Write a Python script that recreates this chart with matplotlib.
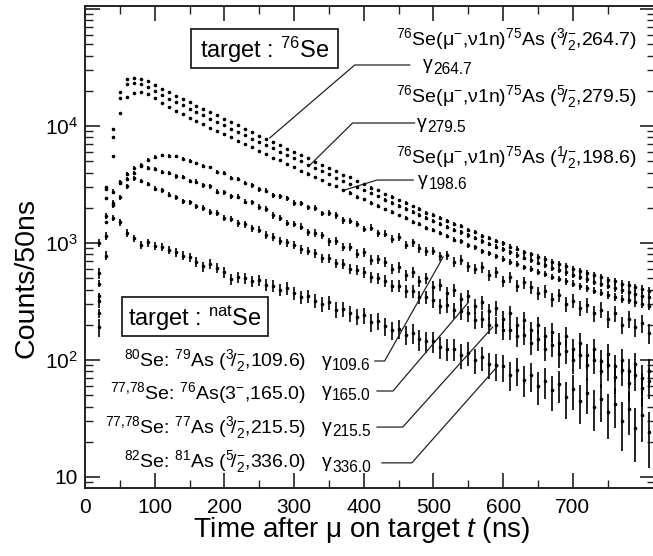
import numpy as np
import matplotlib
matplotlib.use('Agg')
import matplotlib.pyplot as plt
from matplotlib.patches import Rectangle
from matplotlib.ticker import NullFormatter

fam = 'Liberation Sans'
plt.rcParams['font.family'] = [fam, 'DejaVu Sans']
plt.rcParams['mathtext.fontset'] = 'custom'
plt.rcParams['mathtext.rm'] = fam
plt.rcParams['mathtext.it'] = fam + ':italic'
plt.rcParams['mathtext.bf'] = fam + ':bold'

# time bins (ns)
t = np.arange(20, 820, 10)

# 76Se target
se76_264 = [450, 3000, 9500, 19500, 25300, 25800, 25400, 24200, 22600, 20700,
            19400, 18200, 17050, 15950, 14950, 14000, 13100, 12300, 11500, 10800,
            10150, 9450, 8850, 8250, 7800, 7250, 6850, 6380, 6020, 5600,
            5300, 4930, 4660, 4330, 4110, 3820, 3630, 3360, 3200, 2970,
            2830, 2620, 2490, 2320, 2210, 2060, 1970, 1820, 1740, 1630,
            1550, 1450, 1390, 1290, 1240, 1150, 1110, 1040, 990, 930,
            895, 835, 805, 760, 730, 690, 665, 635, 605, 575,
            555, 530, 510, 485, 470, 450, 440, 420, 405, 390]
se76_279 = [350, 2400, 8000, 17500, 22800, 23300, 22900, 21700, 19900, 18400,
            17000, 15900, 15000, 14000, 13150, 12300, 11550, 10800, 10150, 9500,
            8900, 8300, 7800, 7300, 6850, 6420, 6020, 5650, 5280, 4980,
            4650, 4380, 4090, 3860, 3610, 3400, 3190, 3000, 2820, 2650,
            2500, 2350, 2210, 2090, 1960, 1850, 1740, 1640, 1550, 1460,
            1380, 1300, 1230, 1160, 1100, 1030, 980, 930, 880, 835,
            790, 750, 715, 680, 645, 615, 585, 560, 535, 510,
            490, 468, 450, 432, 413, 398, 382, 368, 355, 342]
se76_198 = [250, 1500, 5500, 12800, 17800, 19200, 19500, 18900, 17400, 15700,
            14400, 13500, 12600, 11800, 11050, 10350, 9700, 9100, 8500, 8000,
            7510, 6990, 6550, 6100, 5770, 5370, 5070, 4720, 4450, 4140,
            3920, 3650, 3450, 3200, 3040, 2830, 2690, 2490, 2370, 2200,
            2090, 1940, 1840, 1720, 1640, 1520, 1460, 1350, 1290, 1210,
            1150, 1070, 1030, 955, 920, 850, 820, 770, 730, 690,
            662, 618, 596, 562, 540, 510, 492, 470, 448, 425,
            410, 392, 377, 359, 348, 333, 326, 311, 300, 289]

# natSe target
nat_109 = [190, 780, 1650, 2450, 3050, 3950, 4650, 5150, 5450, 5620,
           5580, 5500, 5250, 5050, 4780, 4550, 4420, 4080, 3950, 3600,
           3550, 3250, 3100, 2880, 2800, 2560, 2520, 2410, 2200, 2180,
           2010, 1990, 1790, 1800, 1720, 1560, 1540, 1460, 1320, 1350,
           1210, 1200, 1090, 1130, 960, 1010, 900, 850, 860, 770,
           790, 690, 720, 630, 600, 620, 530, 560, 470, 510,
           430, 460, 420, 370, 390, 330, 360, 300, 320, 280,
           295, 250, 270, 225, 250, 200, 225, 190, 205, 170]
nat_165 = [320, 1150, 2200, 3250, 3900, 4350, 4550, 4400, 4320, 4050,
           3950, 3700, 3650, 3400, 3350, 3100, 3050, 2750, 2700, 2500,
           2480, 2250, 2230, 2030, 1950, 1720, 1640, 1480, 1450, 1380,
           1230, 1220, 1160, 1030, 1040, 920, 930, 810, 830, 720,
           730, 690, 600, 620, 530, 560, 470, 500, 420, 440,
           370, 395, 330, 350, 290, 310, 260, 280, 225, 250,
           200, 220, 180, 200, 160, 175, 140, 160, 125, 140,
           110, 125, 98, 112, 88, 100, 80, 92, 70, 80]
nat_215 = [550, 1700, 2750, 3300, 3500, 3560, 3380, 3200, 2920, 2820,
           2580, 2450, 2280, 2230, 2050, 2000, 1850, 1800, 1650, 1600,
           1470, 1440, 1330, 1300, 1170, 1130, 1040, 1010, 960, 880,
           860, 820, 740, 740, 670, 660, 600, 590, 560, 510,
           500, 475, 430, 430, 390, 385, 345, 345, 325, 290,
           295, 265, 260, 250, 220, 225, 200, 200, 180, 180,
           160, 165, 140, 150, 125, 135, 112, 120, 100, 110,
           90, 100, 80, 90, 72, 82, 64, 75, 58, 66]
nat_336 = [1000, 2900, 2100, 1500, 1220, 1100, 960, 1010, 950, 920,
           870, 830, 780, 760, 690, 630, 660, 610, 560, 490,
           510, 500, 470, 480, 440, 430, 400, 410, 370, 345,
           350, 320, 300, 310, 270, 275, 250, 235, 240, 210,
           215, 195, 180, 185, 165, 170, 150, 145, 145, 130,
           125, 125, 110, 115, 100, 105, 92, 90, 88, 75,
           82, 68, 74, 60, 66, 55, 62, 48, 56, 45,
           52, 40, 46, 36, 42, 30, 38, 26, 34, 24]

fig = plt.figure(figsize=(6.53, 5.56), dpi=100)
ax = fig.add_axes([85 / 653, 68 / 556, 570 / 653, 482 / 556])

# counts are scaled; error bars from the raw counts behind them
for y, g in [(se76_264, 2), (se76_279, 2), (se76_198, 2),
             (nat_109, 6), (nat_165, 6), (nat_215, 6), (nat_336, 6)]:
    y = np.array(y, float)
    ax.errorbar(t, y, yerr=np.sqrt(g * y), fmt='o', ms=2.6, mfc='k', mec='k',
                mew=0, ecolor='k', elinewidth=1.2, capsize=0)

ax.set_yscale('log')
ax.set_xlim(0, 818)
ax.set_ylim(8.05, 1.06e5)
ax.set_xticks(range(0, 800, 100))
ax.set_xticks(range(50, 800, 100), minor=True)
ax.set_yticks([10, 1e2, 1e3, 1e4, 1e5])
ax.set_yticklabels(['10', '10$^2$', '10$^3$', '10$^4$', ''])
ax.set_yticks([m * 10.0 ** d for d in range(0, 5) for m in range(2, 10)
               if m * 10.0 ** d > 8.05], minor=True)
ax.yaxis.set_minor_formatter(NullFormatter())
ax.tick_params(which='both', direction='in', top=True, right=True,
               labelsize=15, color='#222222')
ax.tick_params(which='major', length=11, width=1.2)
ax.tick_params(which='minor', length=6, width=1.0)
ax.tick_params(axis='x', pad=7)
ax.tick_params(axis='y', pad=5)
for s in ax.spines.values():
    s.set_linewidth(1.4)
    s.set_color('#222222')

fig.text(362 / 653, 0.047, 'Time after μ on target $t$ (ns)', fontsize=20,
         ha='center', va='center')
fig.text(27 / 653, 0.5, 'Counts/50ns', fontsize=20.5, rotation=90,
         ha='center', va='center')

# boxes
box_kw = dict(fill=False, lw=1.3, ec='#222222', transform=ax.transAxes)
ax.add_patch(Rectangle((0.186, 0.871), 0.258, 0.081, **box_kw))
ax.add_patch(Rectangle((0.065, 0.315), 0.256, 0.081, **box_kw))
ax.text(0.315, 0.909, 'target : $^{76}$Se', transform=ax.transAxes,
        fontsize=17, ha='center', va='center')
ax.text(0.193, 0.353, r'target : $^{\mathrm{nat}}$Se', transform=ax.transAxes,
        fontsize=17, ha='center', va='center')

ann_fs = 14
lead = dict(color='#222222', lw=0.9)


def gamma_label(x, y, e):
    ax.text(x, y, 'γ', fontsize=ann_fs, ha='left', va='center')
    ax.annotate(e, (x, y), xytext=(7.5, -3), textcoords='offset points',
                fontsize=ann_fs * 0.8, ha='left', va='center')


# 76Se labels
frac = {'3/2': r'$^{3}\!/_{2}^{-}$', '5/2': r'$^{5}\!/_{2}^{-}$', '1/2': r'$^{1}\!/_{2}^{-}$'}
react = '$^{76}$Se(μ$^{-}$,ν1n)$^{75}$As ('
for y, f, e in [(54300, '3/2', '264.7'), (17700, '5/2', '279.5'), (5350, '1/2', '198.6')]:
    ax.text(793, y, react + frac[f] + ',' + e + ')', fontsize=ann_fs, ha='right', va='center')

gam76 = [('264.7', 485, 33200, [466, 387, 265], [33200, 33200, 7890]),
         ('279.5', 476, 10600, [473, 384, 323], [10600, 10600, 4645]),
         ('198.6', 478, 3400, [471, 419, 373], [3450, 3450, 2840])]
for e, xt, yt, lx, ly in gam76:
    gamma_label(xt, yt, e)
    ax.plot(lx, ly, **lead)

# natSe labels
nat_lab = ['$^{80}$Se: $^{79}$As (' + frac['3/2'] + ',109.6)',
           '$^{77{,}78}$Se: $^{76}$As(3$^{-}$,165.0)',
           '$^{77{,}78}$Se: $^{77}$As (' + frac['3/2'] + ',215.5)',
           '$^{82}$Se: $^{81}$As (' + frac['5/2'] + ',336.0)']
nat_y = [98, 52.3, 26.7, 13.5]
for s, y in zip(nat_lab, nat_y):
    ax.text(317, y, s, fontsize=ann_fs, ha='right', va='center')

gamnat = [('109.6', 98, [416, 430, 514], [98, 98, 759]),
          ('165.0', 54.3, [419, 442, 549.5], [54.3, 54.3, 307]),
          ('215.5', 26.7, [419, 456, 585], [26.7, 26.7, 191]),
          ('336.0', 13.2, [426, 469, 592.5], [13.2, 13.2, 89])]
for e, yt, lx, ly in gamnat:
    gamma_label(340, yt, e)
    ax.plot(lx, ly, **lead)

fig.savefig('out.png', dpi=100)
